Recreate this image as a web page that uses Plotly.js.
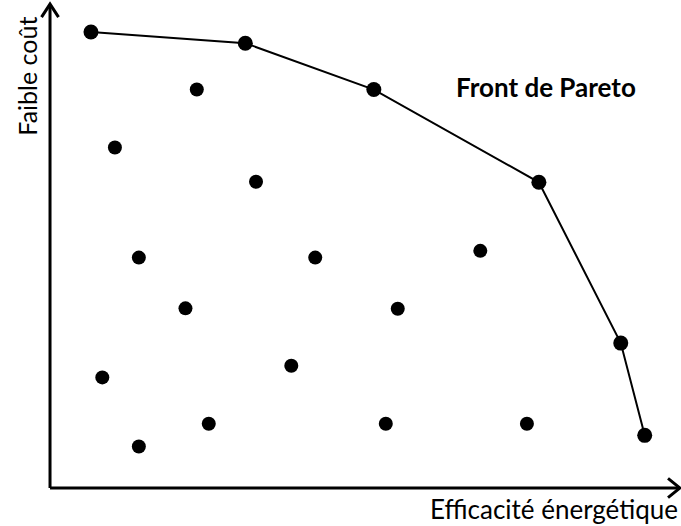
<!DOCTYPE html>
<html>
<head>
<meta charset="utf-8">
<script src="https://cdn.plot.ly/plotly-3.0.1.min.js"></script>
<style>html,body{margin:0;padding:0;background:#fff;}#chart{width:681px;height:526px;}</style>
</head>
<body>
<div id="chart"></div>
<script>
// Pareto front solutions (efficacité énergétique, faible coût) on a 0–10 scale
const paretoX = [0.65, 3.10, 5.14, 7.76, 9.06, 9.44];
const paretoY = [9.44, 9.21, 8.25, 6.33, 3.00, 1.09];

// Dominated solutions
const otherX = [2.33, 1.03, 3.27, 1.41, 4.21, 2.15, 0.83, 3.83, 2.52, 1.41, 6.83, 5.52, 5.33, 7.57];
const otherY = [8.25, 7.05, 6.34, 4.77, 4.77, 3.72, 2.29, 2.53, 1.33, 0.86, 4.91, 3.71, 1.33, 1.33];

const xTitle = "Efficacité énergétique";
const yTitle = "Faible coût";
const frontLabel = "Front de Pareto";

const traces = [
  {
    x: paretoX, y: paretoY, type: 'scatter', mode: 'lines+markers',
    line: {color: '#000', width: 2},
    marker: {color: '#000', size: 15},
    hoverinfo: 'none', showlegend: false, cliponaxis: false
  },
  {
    x: otherX, y: otherY, type: 'scatter', mode: 'markers',
    marker: {color: '#000', size: 14},
    hoverinfo: 'none', showlegend: false, cliponaxis: false
  }
];

const axisLine = {color: '#000', width: 3};
const fontFam = 'Lato, "Open Sans", sans-serif';
const layout = {
  width: 681, height: 526,
  margin: {l: 0, r: 0, t: 0, b: 0, pad: 0},
  paper_bgcolor: '#fff', plot_bgcolor: '#fff',
  xaxis: {range: [-0.794, 10.016], visible: false, fixedrange: true},
  yaxis: {range: [-0.787, 10.104], visible: false, fixedrange: true},
  shapes: [
    {type: 'line', xref: 'x', yref: 'y', x0: 0, y0: 0, x1: 10.0, y1: 0, line: axisLine},
    {type: 'line', xref: 'x', yref: 'y', x0: 0, y0: 0, x1: 0, y1: 10.0, line: axisLine},
    {type: 'path', xref: 'x', yref: 'y', path: 'M -0.135,9.75 L 0,10.02 L 0.135,9.75', line: axisLine},
    {type: 'path', xref: 'x', yref: 'y', path: 'M 9.81,0.2 L 10.0,0 L 9.81,-0.2', line: axisLine}
  ],
  annotations: [
    {text: '<b>' + frontLabel + '</b>', x: 7.87, y: 8.3, xref: 'x', yref: 'y',
     xanchor: 'center', yanchor: 'middle', showarrow: false,
     font: {family: fontFam, size: 26, color: '#000'}},
    {text: xTitle, x: 8.0, y: -0.43, xref: 'x', yref: 'y',
     xanchor: 'center', yanchor: 'middle', showarrow: false,
     font: {family: fontFam, size: 26, color: '#000'}},
    {text: yTitle, x: -0.37, y: 8.53, xref: 'x', yref: 'y', textangle: -90,
     xanchor: 'center', yanchor: 'middle', showarrow: false,
     font: {family: fontFam, size: 25, color: '#000'}}
  ]
};

Plotly.newPlot('chart', traces, layout, {displayModeBar: false, staticPlot: true});
</script>
</body>
</html>
